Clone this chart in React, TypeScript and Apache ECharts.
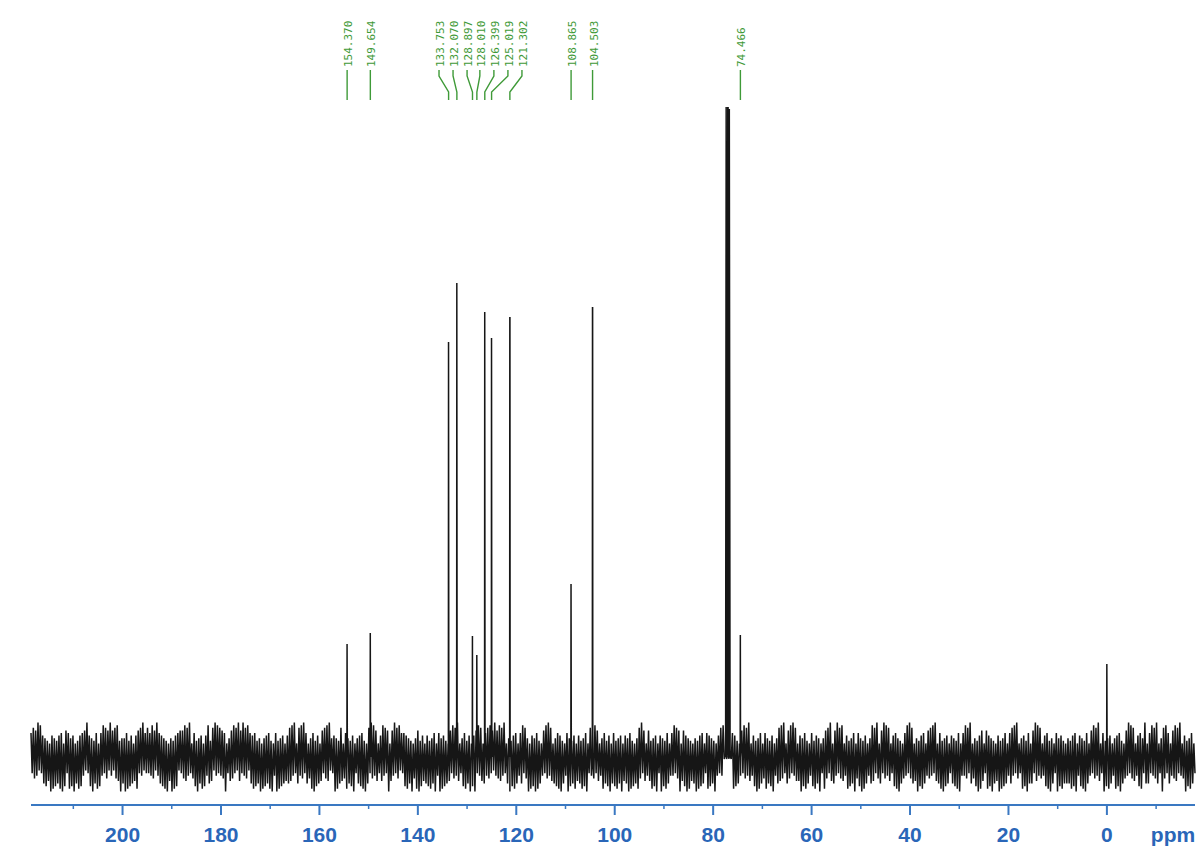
import React, { useEffect, useRef } from "react";
import * as echarts from "echarts";

// ---- data ----
const PPM_LEFT = 218.6;
const PPM_RIGHT = -17.9;

// labelled peaks (ppm), their heights and where their labels sit (ppm)
const peakPpm = [154.37, 149.654, 133.753, 132.07, 128.897, 128.01, 126.399, 125.019, 121.302, 108.865, 104.503, 74.466];
const peakHeight = [113, 124, 415, 474, 121, 102, 445, 419, 440, 173, 450, 122];
const labelPpm = [154.37, 149.654, 135.7, 132.85, 130.0, 127.4, 124.55, 121.7, 118.85, 108.865, 104.503, 74.466];

// unlabelled peaks: CDCl3 triplet and TMS
const solventPpm = [77.32, 77.0, 76.68];
const solventHeight = [650, 650, 648];
const tmsPpm = [0.0];
const tmsHeight = [93];

// baseline noise amplitudes (hand-read texture, digits 0-9)
const NOISE_DIGITS = (
  "5274639182 4637251948 3726485917 6258374916 2847536192 4739265817 5382746193 6174852936 3958274615 4862739152 " +
  "7253846193 5647382915 3928475162 6485739214 5729364817 4386257193 8273645912 3564827195 6293748156 4857263918 " +
  "3746582913 5928374615 4675839216 7384925614 3859274615 6274859132 4938267514 5836274912 3647582916 7294836512 " +
  "4583726915 6392748152 5748362914 3869274516 4728365913 5938472615 6284739512 3758264917 4962837516 5374826193 " +
  "6485739216 3927485613 5682743918 4739582613 6284937516 3758492613 5937264815 4628375912 7394826513 3856274916 " +
  "5728364915 4639582716 3874926513 6528374912 4937285613 5382746915 6749382516 3928475612 5847362913 4273859616 " +
  "3958472613 6284739513 4729385614 5836274913 3675849216 6482937515 4937582613 5728463912 3864729516 6392748513 " +
  "4827365914 5739284613 3685729416 6294837512 4758392614 5382947615 3927485613 6473829516 5829374612 4637285913 " +
  "5384729614 3729486512 6847392615 4928375613 5673829412 3847295616 6295837413 4758293612 5937482616 3628475913 " +
  "4738295613 6284739512 5927384613 3847592614 6392847513 4758329616 5283749612 3974825613 6485729314 4927385612"
).replace(/\s/g, "");

// axis
const majorTicks = [0, 20, 40, 60, 80, 100, 120, 140, 160, 180, 200];
const minorTicks = [-10, 10, 30, 50, 70, 90, 110, 130, 150, 170, 190, 210];

const Y_MIN = -48;
const Y_MAX = 657;

function buildSpectrum(): number[][] {
  const pts: number[][] = [];
  const n = NOISE_DIGITS.length;
  const step = (PPM_LEFT - PPM_RIGHT) / (n - 1);
  for (let i = 0; i < n; i++) {
    const ppm = PPM_LEFT - i * step;
    const d = Number(NOISE_DIGITS[i]);
    let amp = 11 + 2.6 * d;
    if (Math.abs(ppm - 77.0) < 0.9) amp = 2;
    pts.push([ppm, i % 2 === 0 ? amp : -amp]);
  }
  const addPeak = (p: number, h: number, w: number) => {
    pts.push([p + w, 0], [p + w * 0.25, h], [p - w * 0.25, h], [p - w, 0]);
  };
  peakPpm.forEach((p, i) => addPeak(p, peakHeight[i], 0.05));
  solventPpm.forEach((p, i) => addPeak(p, solventHeight[i], 0.15));
  tmsPpm.forEach((p, i) => addPeak(p, tmsHeight[i], 0.05));
  pts.sort((a, b) => b[0] - a[0]);
  return pts;
}

const GREEN = "#3f9a38";
const BLUE = "#2a66b8";

export default function App() {
  const ref = useRef<HTMLDivElement>(null);
  useEffect(() => {
    if (!ref.current) return;
    const chart = echarts.init(ref.current, null, { renderer: "svg" });
    const axisY = Y_MIN;
    const option: any = {
      animation: false,
      backgroundColor: "#ffffff",
      grid: { left: 31, right: 6, top: 100, bottom: 52, containLabel: false },
      xAxis: {
        type: "value",
        min: PPM_RIGHT,
        max: PPM_LEFT,
        minInterval: 20,
        maxInterval: 20,
        inverse: true,
        axisLine: { show: false },
        axisTick: { show: false },
        splitLine: { show: false },
        axisLabel: {
          margin: 19,
          color: BLUE,
          fontWeight: "bold",
          fontSize: 21,
          fontFamily: "Liberation Sans, Arial, sans-serif",
          showMinLabel: false,
          showMaxLabel: false,
          formatter: (v: number) => (Math.abs(v % 20) > 1e-6 ? "" : String(v)),
        },
      },
      yAxis: { type: "value", min: Y_MIN, max: Y_MAX, show: false },
      graphic: [
        {
          type: "text",
          x: 1173,
          y: 834,
          style: {
            text: "ppm",
            fill: BLUE,
            font: "bold 21px 'Liberation Sans', Arial, sans-serif",
            align: "center",
            verticalAlign: "middle",
          },
        },
      ],
      series: [
        {
          type: "line",
          data: buildSpectrum(),
          showSymbol: false,
          symbol: "none",
          lineStyle: { color: "#161616", width: 1.5 },
          z: 3,
          silent: true,
        },
        {
          type: "custom",
          clip: false,
          silent: true,
          data: [[PPM_LEFT, PPM_RIGHT]],
          renderItem: (params: any, api: any) => {
            const a = api.coord([api.value(0), axisY]);
            const b = api.coord([api.value(1), axisY]);
            return {
              type: "line",
              shape: { x1: a[0], y1: a[1], x2: b[0], y2: b[1] },
              style: { stroke: "#3a78c2", lineWidth: 2 },
            };
          },
          z: 4,
        },
        {
          type: "custom",
          clip: false,
          silent: true,
          data: [
            ...majorTicks.map((t) => [t, 1]),
            ...minorTicks.map((t) => [t, 0]),
          ],
          renderItem: (params: any, api: any) => {
            const c = api.coord([api.value(0), axisY]);
            const major = api.value(1) === 1;
            return {
              type: "line",
              shape: { x1: c[0], y1: c[1], x2: c[0], y2: c[1] + (major ? 10 : 4) },
              style: { stroke: "#3a78c2", lineWidth: major ? 2 : 1.5 },
            };
          },
          z: 4,
        },
        {
          type: "custom",
          clip: false,
          silent: true,
          data: peakPpm.map((p, i) => [p, labelPpm[i]]),
          renderItem: (params: any, api: any) => {
            const p = api.value(0);
            const l = api.value(1);
            const px = api.coord([p, 0])[0];
            const lx = api.coord([l, 0])[0];
            return {
              type: "group",
              children: [
                {
                  type: "polyline",
                  shape: { points: [[lx, 70], [lx, 76], [px, 92], [px, 100]] },
                  style: { stroke: GREEN, lineWidth: 1.4, fill: null },
                },
                {
                  type: "text",
                  x: lx + 1.5,
                  y: 67,
                  rotation: Math.PI / 2,
                  style: {
                    text: p.toFixed(3),
                    fill: GREEN,
                    font: "11px 'DejaVu Sans Mono', monospace",
                    align: "left",
                    verticalAlign: "middle",
                  },
                },
              ],
            };
          },
          z: 5,
        },
      ],
    };
    chart.setOption(option);
    return () => chart.dispose();
  }, []);
  return (
    <div
      ref={ref}
      style={{ position: "absolute", left: 0, top: 0, width: 1201, height: 857, background: "#fff" }}
    />
  );
}
